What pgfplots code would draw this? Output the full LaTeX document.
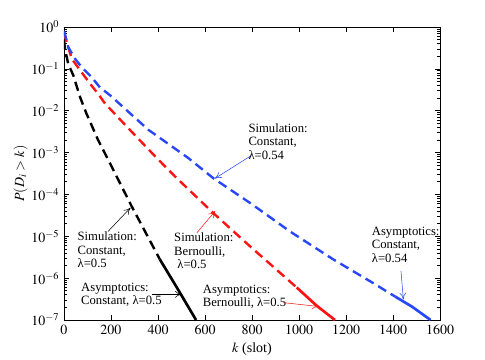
\documentclass[border=0pt]{standalone}
\usepackage{mathptmx}
\usepackage{fontspec}
\setmainfont{Liberation Serif}
\usepackage{pgfplots}
\pgfplotsset{compat=1.18}
\usetikzlibrary{arrows.meta}
\definecolor{mblue}{RGB}{40,70,250}
\definecolor{mred}{RGB}{250,20,20}

\begin{document}
\begin{tikzpicture}
\begin{axis}[
  at={(0,0)}, anchor=south west,
  scale only axis, width=282pt, height=219.75pt,
  ymode=log, xmin=0, xmax=1600, ymin=1e-7, ymax=1,
  xtick={0,200,...,1600},
  ytick={1e-7,1e-6,1e-5,1e-4,1e-3,1e-2,1e-1,1},
  x tick label style={/pgf/number format/1000 sep={}},
  tick align=inside, tick pos=both,
  major tick length=4pt, minor tick length=2pt,
  tick label style={font=\fontsize{10.5}{12}\selectfont},
  label style={font=\fontsize{10.5}{12}\selectfont},
  xlabel={$k$ (slot)}, ylabel={$P(D_i>k)$},
  ylabel shift=-4pt, xlabel shift=-1pt,
  axis line style={line width=0.6pt},
  every tick/.style={line width=0.5pt},
]
% simulation (dashed)
\addplot[black, line width=1.8pt, dash pattern=on 7pt off 4pt] coordinates {
 (0,0.5) (4,0.30) (18,0.132) (40,0.069) (68,0.0214) (95,0.0087) (145,0.002)
 (196,5.5e-4) (288,5.2e-5) (350,1.15e-5) (408,2.8e-6)};
\addplot[mred, line width=1.8pt, dash pattern=on 7pt off 4pt] coordinates {
 (0,0.72) (33,0.174) (75,0.083) (111,0.044) (146,0.025) (174,0.015) (260,4.6e-3)
 (388,8.1e-4) (472,2.7e-4) (635,3.6e-5) (791,5.8e-6) (990,6.0e-7)};
\addplot[mblue, line width=1.8pt, dash pattern=on 7pt off 4pt] coordinates {
 (0,0.8) (4,0.68) (18,0.33) (47,0.174) (75,0.11) (118,0.063) (153,0.036)
 (196,0.0234) (359,3.5e-3) (529,7.4e-4) (635,2.45e-4) (791,6.3e-5) (962,1.3e-5)
 (1146,2.8e-6) (1316,7.6e-7) (1410,3.6e-7)};
% asymptotics (solid)
\addplot[black, line width=2pt] coordinates {(408,2.8e-6) (480,6.0e-7) (562,1.0e-7)};
\addplot[mred, line width=2pt] coordinates {(990,6.0e-7) (1075,2.2e-7) (1153,1.0e-7)};
\addplot[mblue, line width=2pt] coordinates {(1410,3.6e-7) (1480,2.1e-7) (1560,1.0e-7)};

% annotations
\tikzset{lab/.style={anchor=north west, align=left, inner sep=0pt,
  font=\fontsize{9.5}{10.2}\selectfont}}
\node[lab] at (axis cs:784,5.1e-3) {Simulation:\\Constant,\\λ=0.54};
\draw[mblue, line width=0.4pt, -{To[length=5pt,width=5pt]}] (axis cs:791,8.1e-4) -- (axis cs:642,2.4e-4);

\node[lab] at (axis cs:57,1.3e-5) {Simulation:\\Constant,\\λ=0.5};
\draw[black, line width=0.4pt, -{To[length=5pt,width=5pt]}] (axis cs:187,1.3e-5) -- (axis cs:283,4.8e-5);

\node[lab] at (axis cs:468,1.23e-5) {Simulation:\\Bernoulli,\\\ λ=0.5};
\draw[mred, line width=0.4pt, -{To[length=5pt,width=5pt]}] (axis cs:565,1.2e-5) -- (axis cs:643,4.0e-5);

\node[lab] at (axis cs:72,7.9e-7) {Asymptotics:\\Constant, λ=0.5};
\draw[black, line width=0.4pt, -{To[length=5pt,width=5pt]}] (axis cs:373,4.1e-7) -- (axis cs:501,4.1e-7);

\node[lab] at (axis cs:590,7.1e-7) {Asymptotics:\\Bernoulli, λ=0.5};
\draw[mred, line width=0.4pt, -{To[length=5pt,width=5pt]}] (axis cs:933,2.6e-7) -- (axis cs:1084,2.1e-7);

\node[lab] at (axis cs:1309,1.7e-5) {Asymptotics:\\Constant,\\λ=0.54};
\draw[mblue, line width=0.4pt, -{To[length=5pt,width=5pt]}] (axis cs:1434,1.47e-6) -- (axis cs:1444,3.1e-7);
\end{axis}
\pgfresetboundingbox
\path[use as bounding box] (-48pt,-30pt) rectangle (315.75pt,240pt);
\end{tikzpicture}
\end{document}
